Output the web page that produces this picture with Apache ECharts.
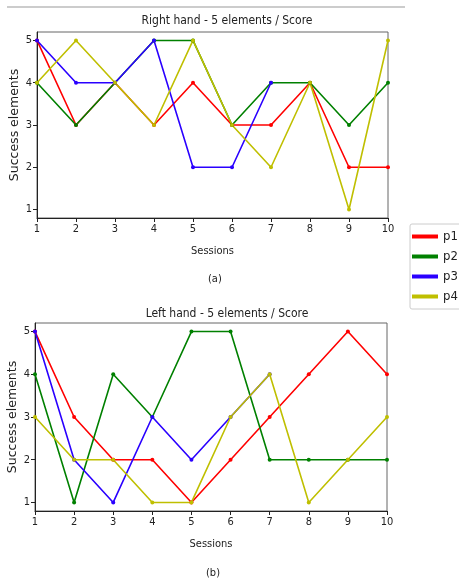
<!DOCTYPE html>
<html>
<head>
<meta charset="utf-8">
<script src="https://cdn.jsdelivr.net/npm/echarts@6/dist/echarts.min.js"></script>
<style>html,body{margin:0;padding:0;background:#fff;}#c{width:459px;height:582px;}</style>
</head>
<body>
<div id="c"></div>
<script>
const sessions = [1,2,3,4,5,6,7,8,9,10];
const yTicks = [1,2,3,4,5];
const names = ['p1','p2','p3','p4'];
// Right hand (a)
const rightP1 = [5,3,4,3,4,3,3,4,2,2];
const rightP2 = [4,3,4,5,5,3,4,4,3,4];
const rightP3 = [5,4,4,5,2,2,4,null,null,null];
const rightP4 = [4,5,4,3,5,3,2,4,1,5];
// Left hand (b)
const leftP1 = [5,3,2,2,1,2,3,4,5,4];
const leftP2 = [4,1,4,3,5,5,2,2,2,2];
const leftP3 = [5,2,1,3,2,3,4,null,null,null];
const leftP4 = [3,2,2,1,1,3,4,1,2,3];

const colors = ['#ff0000','#008000','#2a00ff','#bfbf00'];
const condensed = '"DejaVu Sans Condensed", "DejaVu Sans", sans-serif';

function pts(arr){ return sessions.map((s,i)=> arr[i]==null ? [s,null] : [s,arr[i]]); }

const chart = echarts.init(document.getElementById('c'), null, {renderer:'canvas'});
const grids = [
  {left:37, top:32, width:351, height:186, show:true, borderColor:'#666', borderWidth:1, containLabel:false, outerBoundsMode:'none'},
  {left:35, top:323, width:352, height:188, show:true, borderColor:'#666', borderWidth:1, containLabel:false, outerBoundsMode:'none'}
];
function xAx(gi){
  return {type:'value', gridIndex:gi, min:1, max:10, interval:1,
    name:'Sessions', nameLocation:'middle', nameGap:28, nameMoveOverlap:false,
    nameTextStyle:{fontFamily:condensed, fontSize:11, color:'#222'},
    axisLine:{show:true, lineStyle:{color:'#222', width:1}},
    axisTick:{show:true, length:4, lineStyle:{color:'#222'}},
    axisLabel:{fontFamily:condensed, fontSize:11, color:'#222', margin:6},
    splitLine:{show:false}};
}
function yAx(gi){
  return {type:'value', gridIndex:gi, min:0.8, max:5.2,
    name:'Success elements', nameLocation:'middle', nameGap:16, nameMoveOverlap:false,
    nameTextStyle:{fontFamily:'"DejaVu Sans", sans-serif', fontSize:12.5, color:'#222'},
    axisLine:{show:true, lineStyle:{color:'#222', width:1}},
    axisTick:{show:true, length:4, customValues:yTicks, lineStyle:{color:'#222'}},
    axisLabel:{fontFamily:condensed, fontSize:11, color:'#222', margin:5, customValues:yTicks},
    splitLine:{show:false}};
}
const rightData = [rightP1,rightP2,rightP3,rightP4];
const leftData = [leftP1,leftP2,leftP3,leftP4];
const series = [];
[rightData,leftData].forEach((set,gi)=>{
  set.forEach((arr,k)=>{
    series.push({name:names[k], type:'line', xAxisIndex:gi, yAxisIndex:gi,
      data:pts(arr), symbol:'circle', symbolSize:4, showSymbol:true,
      connectNulls:false, animation:false,
      lineStyle:{color:colors[k], width:1.6},
      itemStyle:{color:colors[k]}});
  });
});
chart.setOption({
  animation:false,
  color:colors,
  title:[
    {text:'Right hand - 5 elements / Score', left:222, top:10, textAlign:'center',
     textStyle:{fontFamily:condensed, fontSize:12, fontWeight:'normal', color:'#222'}},
    {text:'Left hand - 5 elements / Score', left:222, top:303, textAlign:'center',
     textStyle:{fontFamily:condensed, fontSize:12, fontWeight:'normal', color:'#222'}}
  ],
  legend:{data:names, orient:'vertical', left:410, top:224,
    icon:'rect', itemWidth:26, itemHeight:4, itemGap:7,
    borderColor:'#ccc', borderWidth:1, borderRadius:2, padding:[6,20,6,2],
    textStyle:{fontFamily:condensed, fontSize:13, color:'#222', lineHeight:13}},
  graphic:[
    {type:'line', shape:{x1:7,y1:7,x2:405,y2:7}, style:{stroke:'#ccc', lineWidth:2}},
    {type:'text', left:208, top:274, style:{text:'(a)', font:'11px '+condensed, fill:'#222'}},
    {type:'text', left:206, top:568, style:{text:'(b)', font:'11px '+condensed, fill:'#222'}}
  ],
  grid:grids,
  xAxis:[xAx(0), xAx(1)],
  yAxis:[yAx(0), yAx(1)],
  series:series
});
</script>
</body>
</html>
